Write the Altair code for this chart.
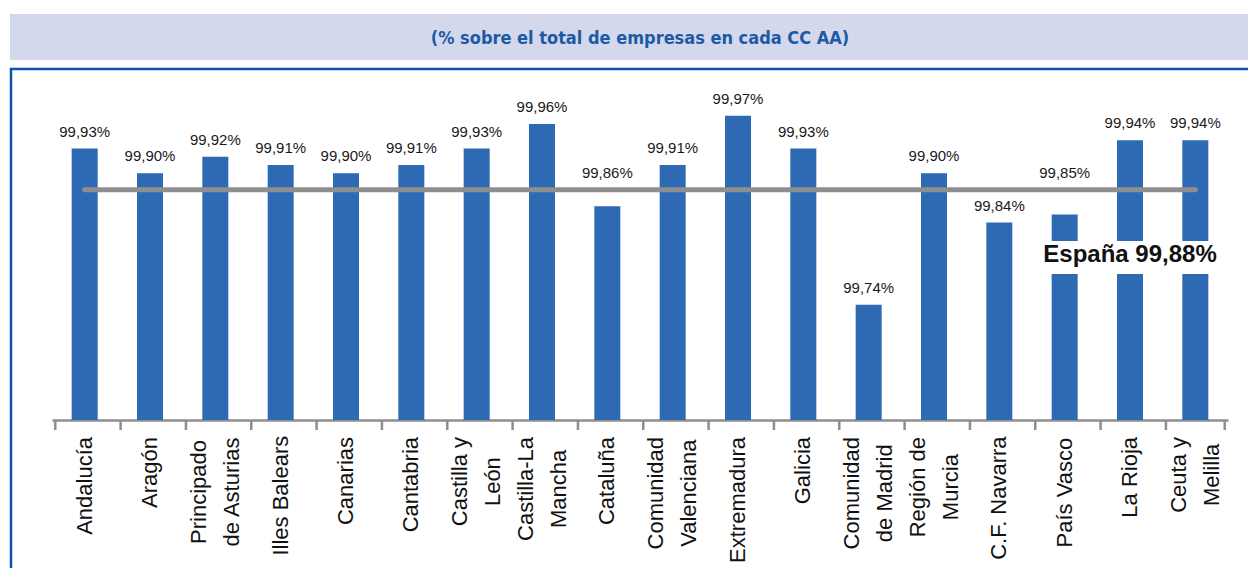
import altair as alt
import pandas as pd

# ---- data ----
regions = ["Andalucía", "Aragón", "Principado de Asturias", "Illes Balears", "Canarias",
           "Cantabria", "Castilla y León", "Castilla-La Mancha", "Cataluña",
           "Comunidad Valenciana", "Extremadura", "Galicia", "Comunidad de Madrid",
           "Región de Murcia", "C.F. Navarra", "País Vasco", "La Rioja", "Ceuta y Melilla"]
values = [99.93, 99.90, 99.92, 99.91, 99.90, 99.91, 99.93, 99.96, 99.86,
          99.91, 99.97, 99.93, 99.74, 99.90, 99.84, 99.85, 99.94, 99.94]
label_lines = [["Andalucía"], ["Aragón"], ["Principado", "de Asturias"], ["Illes Balears"],
               ["Canarias"], ["Cantabria"], ["Castilla y", "León"], ["Castilla-La", "Mancha"],
               ["Cataluña"], ["Comunidad", "Valenciana"], ["Extremadura"], ["Galicia"],
               ["Comunidad", "de Madrid"], ["Región de", "Murcia"], ["C.F. Navarra"],
               ["País Vasco"], ["La Rioja"], ["Ceuta y", "Melilla"]]
spain_value = 99.88
spain_label = "España 99,88%"
spain_anchor = "La Rioja"
title_text = "(% sobre el total de empresas en cada CC AA)"

# ---- styling / layout ----
W, H = 1176, 329
BAR_COLOR = "#2e69b3"
GRAY = "#8e8e8e"
FONT = "Liberation Sans"
LABEL_SIZE = 22
LINE_H = 33
LABEL_TOP = H + 17

# Arial / Liberation Sans advance widths (1/1000 em) to centre wrapped lines
ARIAL_W = {' ': 278, '.': 278, '-': 333, 'A': 667, 'C': 722, 'E': 667, 'F': 611, 'G': 778,
           'I': 278, 'L': 556, 'M': 833, 'P': 667, 'R': 722, 'V': 667, 'a': 556, 'b': 556,
           'c': 500, 'd': 556, 'e': 556, 'f': 278, 'g': 556, 'i': 222, 'j': 222, 'l': 222,
           'm': 833, 'n': 556, 'o': 556, 'p': 556, 'r': 333, 's': 500, 't': 278, 'u': 556,
           'v': 500, 'x': 500, 'y': 500, 'z': 500, 'í': 278, 'ó': 556, 'ñ': 556}


def text_w(s):
    return sum(ARIAL_W.get(c, 556) for c in s) / 1000 * LABEL_SIZE


df = pd.DataFrame({"region": regions, "value": values})
df["label"] = [f"{v:.2f}".replace(".", ",") + "%" for v in values]

rows = []
for reg, lines in zip(regions, label_lines):
    block = max(text_w(s) for s in lines)
    for i, s in enumerate(lines):
        rows.append({"region": reg, "line": s, "idx": i, "n": len(lines),
                     "ypix": LABEL_TOP + block / 2})
lab_df = pd.DataFrame(rows)

spain_df = pd.DataFrame({"region": [regions[0]], "region_end": [regions[-1]],
                         "value": [spain_value], "label": [spain_label],
                         "anchor": [spain_anchor]})

x_scale = alt.Scale(domain=regions)
y_scale = alt.Scale(domain=[99.6, 100.0], zero=False, nice=False)
one = pd.DataFrame({"k": [0]})

frame = alt.Chart(one).mark_rect(fill=None, stroke="#0d56a3", strokeWidth=2.5).encode(
    x=alt.value(-41), x2=alt.value(1220), y=alt.value(-22), y2=alt.value(520))
band = alt.Chart(one).mark_rect(fill="#d3d8ec").encode(
    x=alt.value(-42), x2=alt.value(1220), y=alt.value(-77), y2=alt.value(-31))
title = alt.Chart(one).mark_text(text=title_text, font="DejaVu Sans Condensed",
                                 fontWeight="bold", fontSize=18, color="#1d5aa5",
                                 baseline="middle", align="center").encode(
    x=alt.value(588), y=alt.value(-52))

bars = alt.Chart(df).mark_bar(size=26, color=BAR_COLOR).encode(
    x=alt.X("region:N", scale=x_scale, title=None,
            axis=alt.Axis(labels=False, ticks=False, domainColor=GRAY, domainWidth=2.5)),
    y=alt.Y("value:Q", scale=y_scale, axis=None),
    y2=alt.datum(99.6),
)

# value labels: those that would collide with the España line are lifted above it
vlabels = alt.Chart(df).transform_calculate(
    label_y=f"datum.value < {spain_value} && datum.value > {spain_value} - 0.035 "
            f"? {spain_value} : datum.value"
).mark_text(dy=-17, fontSize=15, font=FONT, color="#1a1a1a", baseline="middle").encode(
    x=alt.X("region:N", scale=x_scale),
    y=alt.Y("label_y:Q", scale=y_scale, axis=None), text="label:N")

ticks = alt.Chart(df).mark_rule(color=GRAY, strokeWidth=2.5).encode(
    x=alt.X("region:N", scale=x_scale, bandPosition=0), y=alt.value(H), y2=alt.value(H + 10))
tick_end = alt.Chart(df).transform_filter(
    alt.datum.region == regions[-1]).mark_rule(color=GRAY, strokeWidth=2.5).encode(
    x=alt.X("region:N", scale=x_scale, bandPosition=1), y=alt.value(H), y2=alt.value(H + 10))

spain_rule = alt.Chart(spain_df).mark_rule(color=GRAY, strokeWidth=5, strokeCap="round").encode(
    x=alt.X("region:N", scale=x_scale), x2="region_end:N",
    y=alt.Y("value:Q", scale=y_scale, axis=None))

spain_box = alt.Chart(one).mark_rect(fill="white").encode(
    x=alt.value(983), x2=alt.value(1168), y=alt.value(150), y2=alt.value(183))
spain_text = alt.Chart(spain_df).mark_text(dy=65, fontSize=24, font=FONT, fontWeight="bold",
                                           color="#111111", baseline="middle").encode(
    x=alt.X("anchor:N", scale=x_scale), y=alt.Y("value:Q", scale=y_scale, axis=None),
    text="label:N")


def label_layer(filt, dy):
    return alt.Chart(lab_df).transform_filter(filt).mark_text(
        angle=270, align="center", baseline="middle", dy=dy, fontSize=LABEL_SIZE,
        font=FONT, color="#111111").encode(
        x=alt.X("region:N", scale=x_scale),
        y=alt.Y("ypix:Q", scale=None, axis=None),
        text="line:N")


lab_single = label_layer("datum.n == 1", 0)
lab_first = label_layer("datum.n == 2 && datum.idx == 0", -LINE_H / 2)
lab_second = label_layer("datum.n == 2 && datum.idx == 1", LINE_H / 2)

chart = alt.layer(frame, band, title, bars, ticks, tick_end, spain_rule, vlabels,
                  spain_box, spain_text, lab_single, lab_first, lab_second).resolve_scale(
    y="independent").properties(
    width=W, height=H,
    autosize=alt.AutoSizeParams(type="none"),
    padding={"left": 44, "top": 83, "right": 20, "bottom": 148},
).configure_view(stroke=None)

chart.save("out.html", embed_options={"renderer": "svg", "actions": False})
